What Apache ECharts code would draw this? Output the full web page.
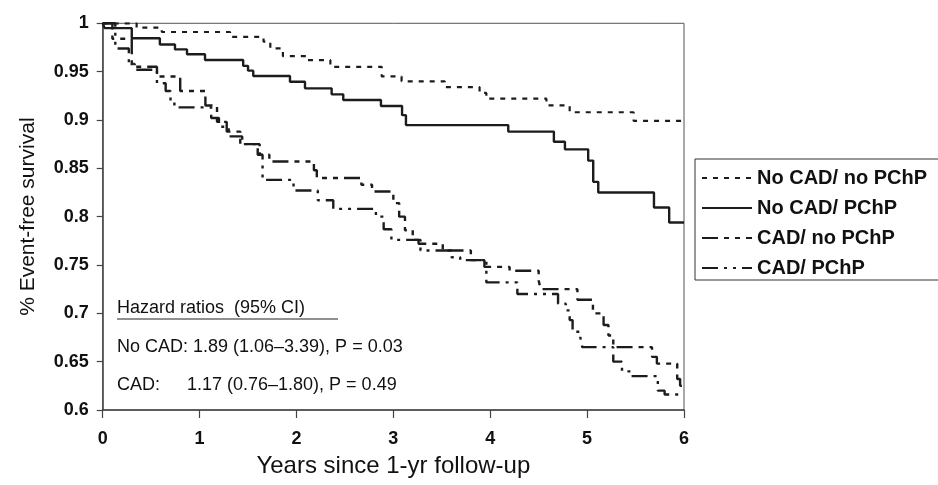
<!DOCTYPE html>
<html><head><meta charset="utf-8">
<script src="https://cdn.jsdelivr.net/npm/echarts@6/dist/echarts.min.js"></script>
<style>html,body{margin:0;padding:0;background:#fff}#c{width:938px;height:485px}</style>
</head><body><div id="c"></div>
<script>
const seriesNames = ['No CAD/ no PChP', 'No CAD/ PChP', 'CAD/ no PChP', 'CAD/ PChP'];
const xTicks = [0, 1, 2, 3, 4, 5, 6];
const yTicks = [0.6, 0.65, 0.7, 0.75, 0.8, 0.85, 0.9, 0.95, 1];

const noCadNoPchpX = [0, 0.35, 0.61, 1.315, 1.66, 1.73, 1.86, 2.1, 2.35, 2.88, 3.085, 3.53, 3.89, 3.96, 4.58, 4.82, 5.48, 6];
const noCadNoPchpY = [1, 0.9955, 0.991, 0.986, 0.981, 0.974, 0.966, 0.962, 0.955, 0.945, 0.94, 0.934, 0.928, 0.922, 0.915, 0.908, 0.899, 0.899];

const noCadPchpX = [0, 0.02, 0.3, 0.59, 0.746, 0.87, 1.056, 1.45, 1.5, 1.554, 1.933, 2.088, 2.363, 2.483, 2.872, 3.09, 3.13, 4.186, 4.657, 4.771, 5.011, 5.063, 5.115, 5.69, 5.847, 6];
const noCadPchpY = [1, 0.995, 0.9845, 0.978, 0.973, 0.968, 0.962, 0.956, 0.951, 0.9455, 0.9396, 0.9327, 0.9265, 0.9206, 0.9144, 0.905, 0.8947, 0.888, 0.8775, 0.8696, 0.858, 0.836, 0.825, 0.8095, 0.794, 0.794];

const cadNoPchpX = [0, 0.1, 0.3, 0.56, 0.8, 1.06, 1.18, 1.28, 1.42, 1.62, 1.72, 2.18, 2.21, 2.67, 2.78, 3.0, 3.06, 3.12, 3.2, 3.26, 3.51, 3.8, 3.94, 4.2, 4.5, 4.52, 4.9, 5.06, 5.17, 5.22, 5.27, 5.67, 5.72, 5.93, 5.96, 6];
const cadNoPchpY = [1, 0.984, 0.955, 0.945, 0.93, 0.915, 0.898, 0.888, 0.875, 0.864, 0.857, 0.848, 0.84, 0.833, 0.826, 0.814, 0.8, 0.786, 0.776, 0.772, 0.765, 0.755, 0.748, 0.744, 0.734, 0.725, 0.714, 0.7, 0.688, 0.677, 0.665, 0.655, 0.648, 0.632, 0.625, 0.625];

const cadPchpX = [0, 0.13, 0.27, 0.33, 0.56, 0.65, 0.7, 0.74, 1.12, 1.2, 1.3, 1.44, 1.6, 1.65, 1.97, 2.22, 2.38, 2.82, 2.9, 2.98, 3.28, 3.6, 3.69, 3.96, 4.28, 4.7, 4.78, 4.82, 4.85, 4.93, 4.95, 5.27, 5.36, 5.45, 5.73, 5.8, 6];
const cadPchpY = [1, 0.974, 0.958, 0.952, 0.938, 0.93, 0.92, 0.913, 0.902, 0.893, 0.883, 0.875, 0.864, 0.838, 0.827, 0.817, 0.808, 0.8, 0.787, 0.776, 0.765, 0.758, 0.755, 0.732, 0.72, 0.71, 0.703, 0.693, 0.681, 0.675, 0.665, 0.65, 0.64, 0.635, 0.62, 0.616, 0.616];

const hrTitle = 'Hazard ratios  (95% CI)';
const hrNoCadLabel = 'No CAD: 1.89 (1.06\u20133.39), P = 0.03';
const hrCadLabel = 'CAD:';
const hrCadValue = '1.17 (0.76\u20131.80), P = 0.49';

const pair = (xs, ys) => xs.map((x, i) => [x, ys[i]]);
const ink = '#1c1c1c';
const styles = [
  { width: 2.2, type: [5, 6] },
  { width: 2.4, type: 'solid' },
  { width: 2.4, type: [16, 6, 5, 6, 5, 6] },
  { width: 2.4, type: [16, 6, 3, 6, 3, 6] }
];
const datas = [
  pair(noCadNoPchpX, noCadNoPchpY),
  pair(noCadPchpX, noCadPchpY),
  pair(cadNoPchpX, cadNoPchpY),
  pair(cadPchpX, cadPchpY)
];
const font = 'Liberation Sans, Arial, sans-serif';

const chart = echarts.init(document.getElementById('c'), null, { renderer: 'canvas' });
chart.setOption({
  backgroundColor: '#fff',
  animation: false,
  textStyle: { fontFamily: font },
  grid: { left: 102.7, right: 254, top: 23.3, bottom: 75, show: true, borderColor: '#555', borderWidth: 1 },
  xAxis: {
    type: 'value', min: xTicks[0], max: xTicks[xTicks.length - 1], interval: 1,
    name: 'Years since 1-yr follow-up', nameLocation: 'middle', nameGap: 44,
    nameTextStyle: { fontSize: 24, color: '#111', fontFamily: font },
    axisLine: { lineStyle: { color: '#444', width: 1.5 } },
    axisTick: { show: true, length: 8, lineStyle: { color: '#444', width: 1.2 } },
    axisLabel: { fontSize: 18, fontWeight: 'bold', color: '#111', margin: 20 },
    splitLine: { show: false }
  },
  yAxis: {
    type: 'value', min: yTicks[0], max: yTicks[yTicks.length - 1], interval: 0.05,
    name: '% Event-free survival', nameLocation: 'middle', nameGap: 64, nameRotate: 90,
    nameTextStyle: { fontSize: 21, color: '#111', fontFamily: font },
    axisLine: { show: true, lineStyle: { color: '#444', width: 1.5 } },
    axisTick: { show: true, length: 6, lineStyle: { color: '#444', width: 1.2 } },
    axisLabel: { fontSize: 18, fontWeight: 'bold', color: '#111', margin: 14,
      formatter: v => String(+v.toFixed(2)) },
    splitLine: { show: false }
  },
  legend: {
    orient: 'vertical', left: 695, top: 159,
    data: seriesNames,
    itemWidth: 50, itemHeight: 14, itemGap: 10,
    padding: [9, 12, 2, 6],
    borderColor: '#333', borderWidth: 1, backgroundColor: '#fff',
    itemStyle: { color: 'transparent', borderColor: 'transparent', borderWidth: 0, opacity: 0 },
    textStyle: { fontSize: 20, fontWeight: 'bold', color: '#111', fontFamily: font }
  },
  series: seriesNames.map((name, i) => ({
    name, type: 'line', step: 'end', symbol: 'circle', symbolSize: 0, showSymbol: false,
    data: datas[i],
    lineStyle: { color: ink, width: styles[i].width, type: styles[i].type },
    itemStyle: { color: ink },
    z: 3 + i
  })),
  graphic: [
    { type: 'text', x: 117, y: 308, style: { text: hrTitle, font: '18px "Liberation Sans", Arial, sans-serif', fill: '#111', verticalAlign: 'middle' } },
    { type: 'line', shape: { x1: 117, y1: 319, x2: 338, y2: 319 }, style: { stroke: '#222', lineWidth: 1.2 } },
    { type: 'text', x: 117, y: 347, style: { text: hrNoCadLabel, font: '18px "Liberation Sans", Arial, sans-serif', fill: '#111', verticalAlign: 'middle' } },
    { type: 'text', x: 117, y: 385, style: { text: hrCadLabel, font: '18px "Liberation Sans", Arial, sans-serif', fill: '#111', verticalAlign: 'middle' } },
    { type: 'text', x: 187, y: 385, style: { text: hrCadValue, font: '18px "Liberation Sans", Arial, sans-serif', fill: '#111', verticalAlign: 'middle' } }
  ]
});
</script>
</body></html>
